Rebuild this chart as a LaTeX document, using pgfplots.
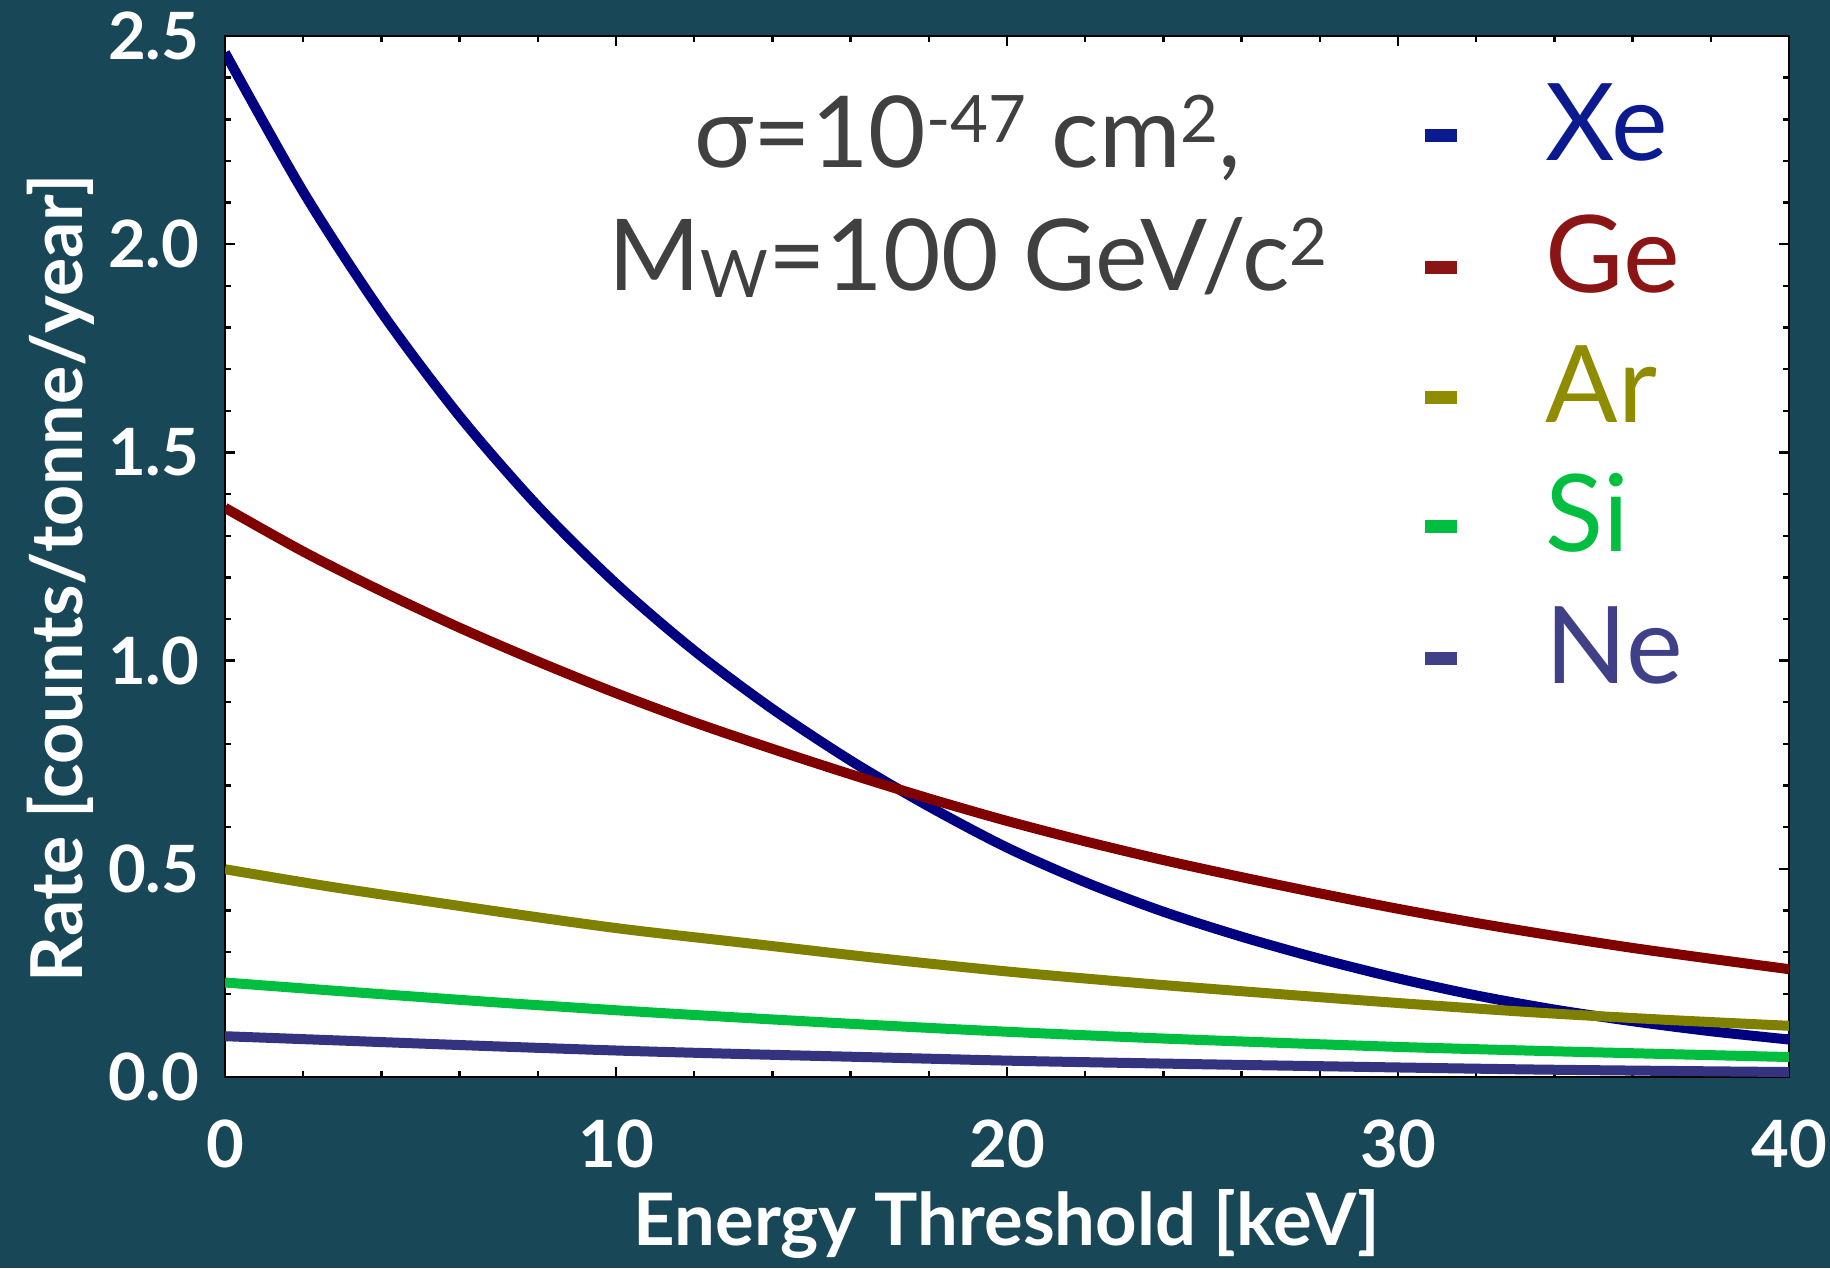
\documentclass[border=0pt]{standalone}
\usepackage{pgfplots}
\usepackage{pgfplotstable}
\pgfplotsset{compat=1.18}
\usepackage{fontspec}
\setmainfont{Lato}

\definecolor{bg}{HTML}{184757}
\definecolor{annot}{HTML}{404040}
\definecolor{xec}{HTML}{000080}
\definecolor{gec}{HTML}{800000}
\definecolor{arc}{HTML}{808000}
\definecolor{sic}{HTML}{00BF40}
\definecolor{nec}{HTML}{333380}
\definecolor{xel}{HTML}{0B1A8F}
\definecolor{gel}{HTML}{8B1515}
\definecolor{arl}{HTML}{8F8C00}
\definecolor{sil}{HTML}{00BF40}
\definecolor{nel}{HTML}{404088}

% rates, counts/tonne/year vs threshold in keV
\pgfplotstableread{
x y
0  2.460
2  2.126
4  1.837
6  1.587
8  1.371
10 1.185
12 1.024
14 0.884
16 0.760
18 0.650
20 0.551
22 0.468
24 0.397
26 0.337
28 0.284
30 0.237
32 0.196
34 0.162
36 0.134
38 0.110
40 0.090
}\xe
\pgfplotstableread{
x y
0  1.367
2  1.262
4  1.167
6  1.079
8  0.998
10 0.922
12 0.852
14 0.788
16 0.727
18 0.669
20 0.615
22 0.566
24 0.521
26 0.480
28 0.441
30 0.404
32 0.370
34 0.339
36 0.310
38 0.284
40 0.259
}\ge
\pgfplotstableread{
x y
0     0.499
2.56  0.459
5.12  0.423
7.67  0.388
10.23 0.355
13.30 0.322
16.76 0.285
20.17 0.252
23.58 0.224
26.70 0.201
30.11 0.177
33.52 0.155
36.93 0.137
40    0.123
}\ar
\pgfplotstableread{
x y
0     0.227
3.41  0.203
6.82  0.180
10.23 0.159
13.30 0.142
16.76 0.124
20.17 0.108
23.58 0.094
26.70 0.083
30.11 0.072
33.52 0.063
36.93 0.055
40    0.048
}\si
\pgfplotstableread{
x y
0     0.098
3.41  0.086
6.82  0.074
10.23 0.063
13.30 0.055
16.76 0.047
20.17 0.039
23.58 0.033
26.70 0.028
33.52 0.018
40    0.012
}\ne

\newcommand{\upsc}[1]{\raisebox{6.2pt}{\scalebox{0.66}{#1}}}

\begin{document}
\begin{tikzpicture}
\fill[bg] (-56.25pt,-47.75pt) rectangle (401.25pt,269.25pt);
\begin{axis}[
    scale only axis,
    width=391pt, height=260.25pt,
    xmin=0, xmax=40, ymin=0, ymax=2.5,
    xtick={0,10,20,30,40},
    ytick={0,0.5,1,1.5,2,2.5},
    minor x tick num=4, minor y tick num=4,
    tick align=inside,
    major tick length=2.6pt, minor tick length=1.6pt,
    tick style={black, line width=0.6pt},
    axis line style={black, line width=0.6pt},
    axis background/.style={fill=white},
    /pgf/number format/assume math mode=true,
    ticklabel style={font=\fontsize{16.3}{18}\selectfont\bfseries, text=white, inner sep=0pt},
    xticklabel style={anchor=base, yshift=-22.5pt},
    yticklabel style={anchor=east, xshift=-6.25pt,
        /pgf/number format/fixed, /pgf/number format/fixed zerofill,
        /pgf/number format/precision=1},
    xlabel={Energy Threshold [keV]},
    ylabel={Rate [counts/tonne/year]},
    every axis x label/.style={at={(axis description cs:0.5,-0.1623)}, anchor=base,
        font=\fontsize{18.1}{20}\selectfont\bfseries, text=white},
    every axis y label/.style={at={(axis description cs:-0.105,0.479)}, rotate=90, anchor=center,
        font=\fontsize{17.9}{20}\selectfont\bfseries, text=white},
    every axis plot/.append style={line width=2.5pt, smooth},
]
\addplot[xec] table {\xe};
\addplot[gec] table {\ge};
\addplot[arc] table {\ar};
\addplot[sic] table {\si};
\addplot[nec] table {\ne};

% annotation
\node[anchor=base, text=annot, font=\fontsize{24.8}{30}\selectfont]
    at (axis cs:19,2.184) {σ=10\upsc{-47} cm\upsc{2},};
\node[anchor=base, text=annot, font=\fontsize{24.8}{30}\selectfont]
    at (axis cs:19,1.890) {M\raisebox{-1.75pt}{\scalebox{0.66}{W}}=100 GeV/c\upsc{2}};

% legend
\draw[line width=3.25pt, xel] (axis cs:30.69,2.260) -- (axis cs:31.51,2.260);
\draw[line width=3.25pt, gel] (axis cs:30.69,1.945) -- (axis cs:31.51,1.945);
\draw[line width=3.25pt, arl] (axis cs:30.69,1.633) -- (axis cs:31.51,1.633);
\draw[line width=3.25pt, sil] (axis cs:30.69,1.321) -- (axis cs:31.51,1.321);
\draw[line width=3.25pt, nel] (axis cs:30.69,1.006) -- (axis cs:31.51,1.006);
\node[anchor=base west, inner sep=0pt, text=xel, font=\fontsize{26.8}{30}\selectfont] at (axis cs:33.76,2.200) {Xe};
\node[anchor=base west, inner sep=0pt, text=gel, font=\fontsize{26.8}{30}\selectfont] at (axis cs:33.76,1.885) {Ge};
\node[anchor=base west, inner sep=0pt, text=arl, font=\fontsize{26.8}{30}\selectfont] at (axis cs:33.76,1.573) {Ar};
\node[anchor=base west, inner sep=0pt, text=sil, font=\fontsize{26.8}{30}\selectfont] at (axis cs:33.76,1.261) {Si};
\node[anchor=base west, inner sep=0pt, text=nel, font=\fontsize{26.8}{30}\selectfont] at (axis cs:33.76,0.946) {Ne};
\end{axis}
\pgfresetboundingbox
\path[use as bounding box] (-56.25pt,-47.75pt) rectangle (401.25pt,269.25pt);
\end{tikzpicture}
\end{document}
